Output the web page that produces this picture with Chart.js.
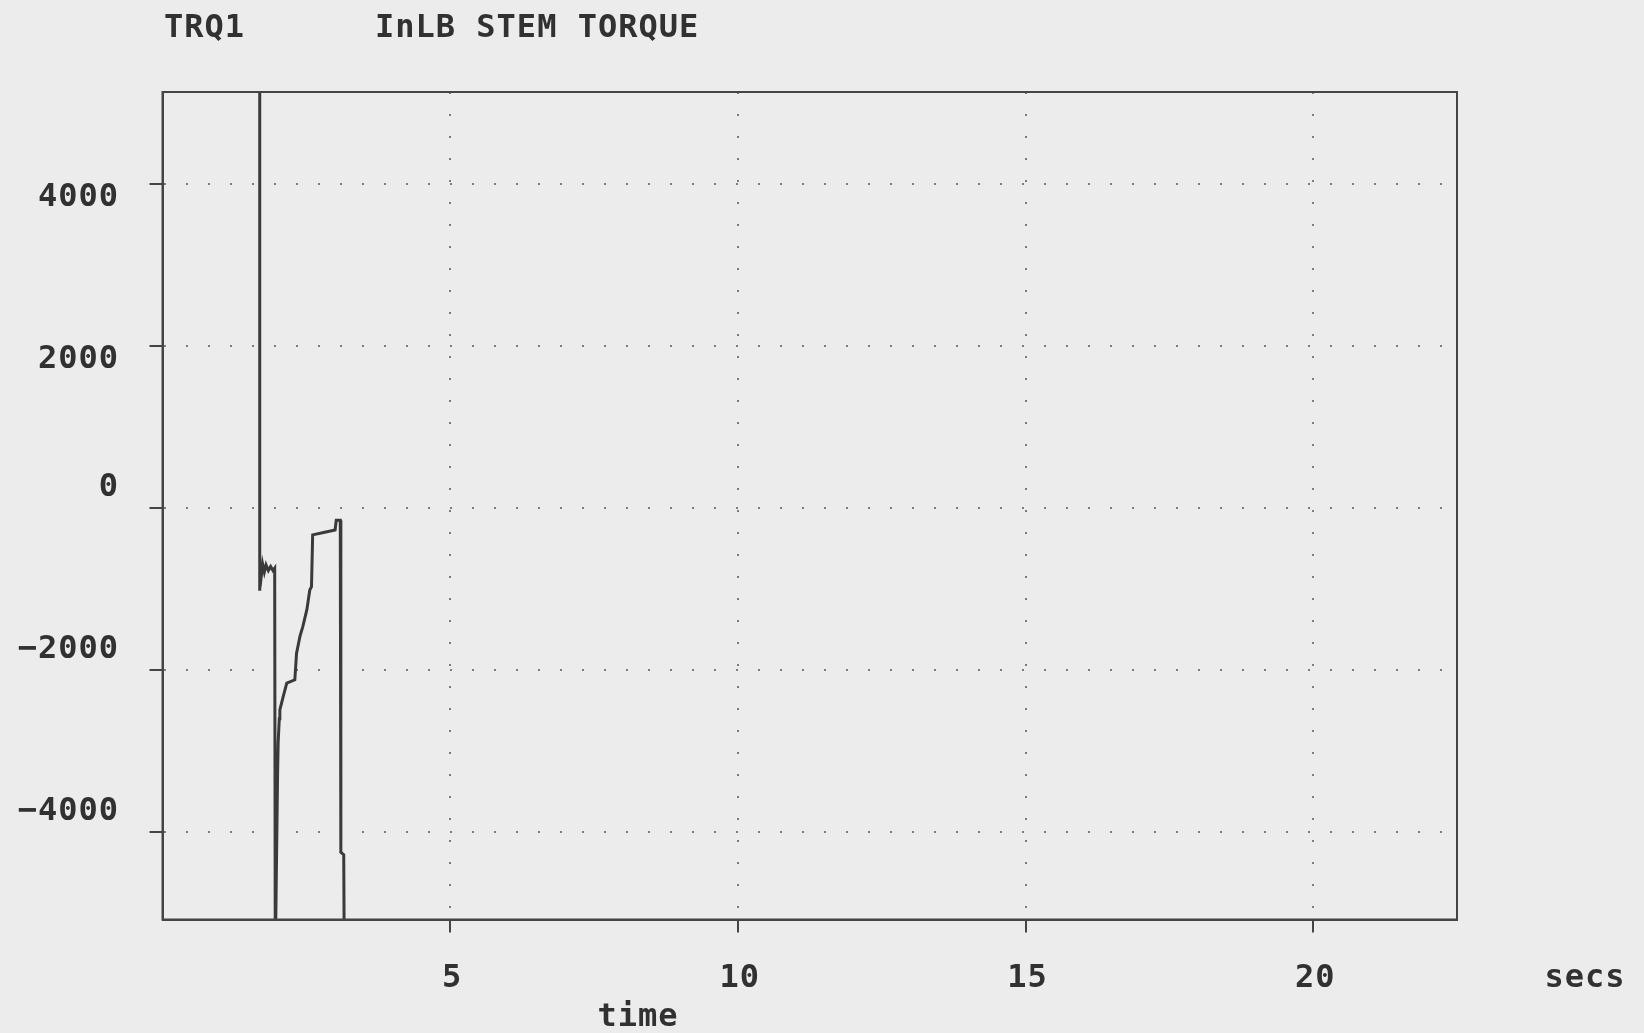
<!DOCTYPE html>
<html>
<head>
<meta charset="utf-8">
<title>TRQ1 InLB STEM TORQUE</title>
<script src="https://cdn.jsdelivr.net/npm/chart.js@4.4.1/dist/chart.umd.min.js"></script>
<style>
  html, body { margin: 0; padding: 0; background: #ececec; }
  canvas { display: block; }
</style>
</head>
<body>
<canvas id="torqueChart" width="1644" height="1033"></canvas>
<script>
// trace: time in seconds, stem torque in in-lb
const timeSecs = [1.69, 1.69, 1.70, 1.72, 1.74, 1.77, 1.80, 1.84, 1.88, 1.92, 1.95, 1.96,
    2.00, 2.01, 2.03, 2.04, 2.10, 2.16, 2.30, 2.33, 2.39, 2.44, 2.51, 2.56, 2.59, 2.61,
    2.80, 3.00, 3.02, 3.09, 3.10, 3.10, 3.15, 3.16];
const torqueInLb = [6000, -1020, -700, -820, -690, -790, -700, -770, -720, -770, -740, -5600,
    -3300, -2900, -2600, -2490, -2320, -2160, -2120, -1790, -1580, -1460, -1250, -1010, -970, -330,
    -300, -270, -150, -150, -560, -4250, -4280, -5600];

const timeTicks = [5, 10, 15, 20];
const torqueTicks = [-4000, -2000, 0, 2000, 4000];

const plotTag = 'TRQ1';
const plotTitle = 'InLB STEM TORQUE';
const xAxisName = 'time';
const xUnits = 'secs';

const INK = '#313131';
const PAPER = '#ececec';

// background, frame and all the printed text
const printoutPlugin = {
    id: 'printout',
    beforeDraw: (chart) => {
        const {ctx, width, height} = chart;
        ctx.save();
        ctx.fillStyle = PAPER;
        ctx.fillRect(0, 0, width, height);
        ctx.restore();
    },
    afterDraw: (chart) => {
        const {ctx, chartArea: a, scales} = chart;
        ctx.save();
        ctx.strokeStyle = '#454545';
        ctx.lineWidth = 2;
        ctx.strokeRect(a.left, a.top, a.right - a.left, a.bottom - a.top);

        ctx.fillStyle = INK;
        ctx.font = 'bold 32px "DejaVu Sans Mono"';
        ctx.letterSpacing = '1px';
        ctx.textBaseline = 'alphabetic';

        ctx.textAlign = 'left';
        ctx.fillText(plotTag, 164, 37);
        ctx.fillText(plotTitle, 375, 37);

        // y labels sit a bit off their gridlines on the original
        ctx.textAlign = 'right';
        torqueTicks.forEach(v => {
            const py = scales.y.getPixelForValue(v) + (v > 0 ? 21.5 : -12);
            ctx.fillText(String(v).replace('-', '\u2212'), 119, py);
        });

        ctx.textAlign = 'center';
        timeTicks.forEach(t => {
            ctx.fillText(String(t), scales.x.getPixelForValue(t) + 2, a.bottom + 67);
        });
        ctx.fillText(xUnits, 1585, a.bottom + 67);
        ctx.fillText(xAxisName, 638, 1026);
        ctx.restore();
    }
};

const gridStyle = {
    color: '#7c7c7c',
    lineWidth: 2,
    tickColor: '#454545',
    tickLength: 13,
    tickWidth: 2
};

var ctx = document.getElementById('torqueChart').getContext('2d');
var torqueChart = new Chart(ctx, {
    type: 'line',
    data: {
        datasets: [{
            label: 'TRQ1',
            data: timeSecs.map((t, i) => ({x: t, y: torqueInLb[i]})),
            borderColor: '#3a3a3a',
            borderWidth: 3,
            pointRadius: 0,
            tension: 0,
            fill: false
        }]
    },
    options: {
        responsive: false,
        animation: false,
        events: [],
        layout: {
            padding: {top: 92, right: 187, left: 0, bottom: 0}
        },
        scales: {
            x: {
                type: 'linear',
                min: 0,
                max: 22.5,
                ticks: {display: false},
                grid: gridStyle,
                border: {display: true, color: '#454545', width: 2, dash: [2, 20]},
                afterBuildTicks: (scale) => { scale.ticks = timeTicks.map(v => ({value: v})); },
                afterFit: (scale) => { scale.height = 113.5; }
            },
            y: {
                type: 'linear',
                min: -5080,
                max: 5140,
                ticks: {display: false},
                grid: gridStyle,
                border: {display: true, color: '#454545', width: 2, dash: [2, 20]},
                afterBuildTicks: (scale) => { scale.ticks = torqueTicks.map(v => ({value: v})); },
                afterFit: (scale) => { scale.width = 162.5; }
            }
        },
        plugins: {
            legend: {display: false},
            tooltip: {enabled: false},
            title: {display: false}
        }
    },
    plugins: [printoutPlugin]
});
</script>
</body>
</html>
